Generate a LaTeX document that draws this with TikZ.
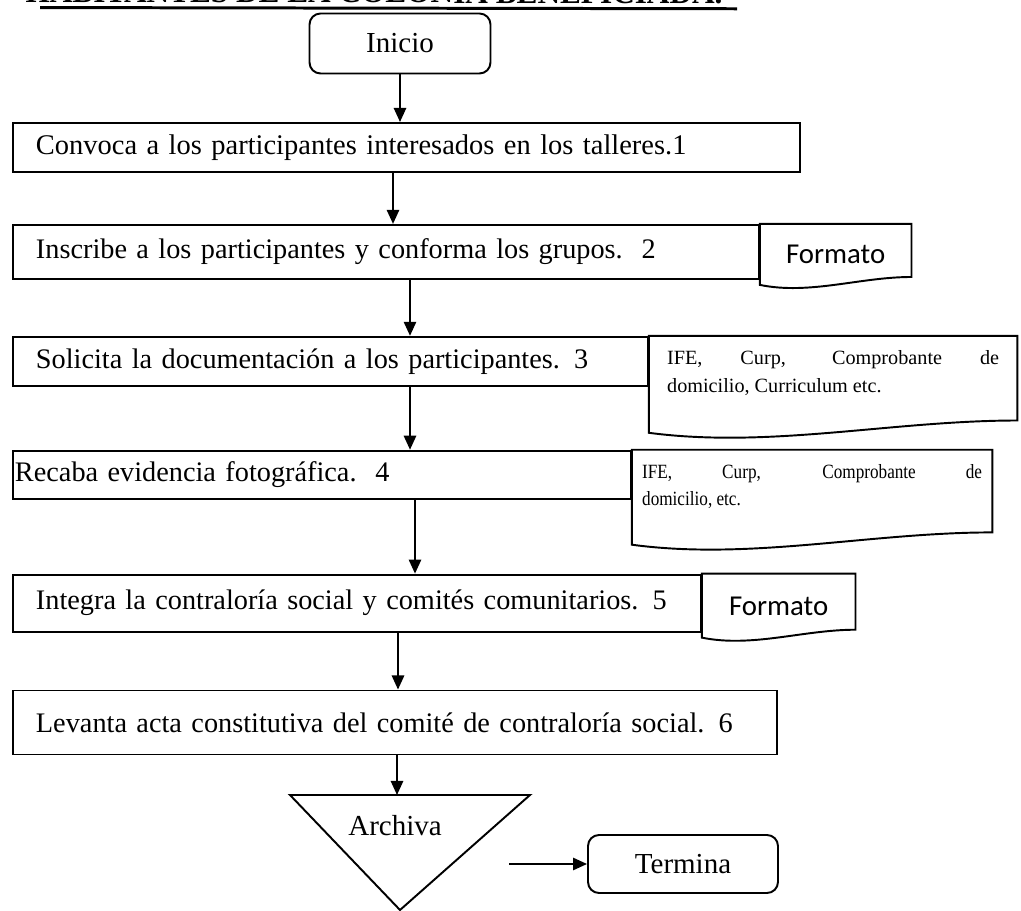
\documentclass[tikz,border=0pt]{standalone}
\usepackage{fontspec}
\setmainfont{Liberation Serif}
\newfontfamily\calibri{Carlito}
\newfontfamily\narrowserif[FakeStretch=0.85]{Liberation Serif}
\usetikzlibrary{arrows.meta,positioning,calc}

\begin{document}
\begin{tikzpicture}[
    x=0.02cm, y=-0.02cm,
    font=\fontsize{16.1}{19}\selectfont,
    proc/.style={draw, line width=1.1pt, anchor=north west, align=left, inner xsep=0.46cm, inner ysep=0pt},
    term/.style={draw, line width=1.1pt, rounded corners=2.2mm, minimum width=3.62cm, minimum height=1.2cm, font=\fontsize{16.5}{19}\selectfont},
    doc/.style={anchor=north west, inner ysep=0pt},
    fmt/.style={doc, font=\calibri\fontsize{16.4}{19}\selectfont},
    note/.style={doc, align=left, inner xsep=0.36cm, inner ysep=0.28cm, font=\fontsize{11.5}{16}\selectfont},
    arr/.style={-{Triangle[length=8pt,width=7pt]}, line width=1.1pt},
    line/.style={line width=1.1pt}
]
\useasboundingbox (0,0) rectangle (1021,911);
\clip (0,0) rectangle (1021,911);

% titulo (cortado arriba)
\node[font=\bfseries\fontsize{17.8}{20}\selectfont, anchor=base east, inner sep=0, rotate=-0.1] (title) at (723,3.5) {HABITANTES DE LA COLONIA BENEFICIADA.};
\draw[line width=1.7pt] ([yshift=-3pt,xshift=0.3cm]title.base west) -- ([yshift=-3pt,xshift=0.28cm]title.base east);

\node[term] (ini) at (400,43.5) {Inicio};

\node[proc, text width=14.82cm, minimum height=0.98cm, font=\fontsize{16.2}{19}\selectfont] (b1) at (12,122) {Convoca a los participantes interesados en los talleres.1};
\node[proc, text width=14.0cm, minimum height=1.08cm, below=1.02cm of b1.south west, anchor=north west] (b2) {Inscribe a los participantes y conforma los grupos.\ \ 2};
\node[proc, text width=11.78cm, minimum height=0.98cm, below=1.12cm of b2.south west, anchor=north west] (b3) {Solicita la documentación a los participantes. 3};
\node[proc, text width=12.28cm, inner xsep=0.04cm, minimum height=0.96cm, below=1.26cm of b3.south west, anchor=north west] (b4) {Recaba evidencia fotográfica.\ \ 4};
\node[proc, text width=12.84cm, minimum height=1.14cm, below=1.48cm of b4.south west, anchor=north west] (b5) {Integra la contraloría social y comités comunitarios. 5};
\node[proc, text width=14.36cm, minimum height=1.28cm, below=1.14cm of b5.south west, anchor=north west] (b6) {Levanta acta constitutiva del comité de contraloría social. 6};

% documentos
\node[fmt, minimum width=3.02cm, minimum height=1.22cm, right=0pt of b2.north east, anchor=north west] (f2) {Formato};
\node[note, right=0pt of b3.north east, anchor=north west] (d3) {\makebox[6.64cm][s]{IFE, Curp, Comprobante de}\\domicilio, Curriculum etc.};
\node[note, font=\narrowserif\fontsize{11.5}{15.5}\selectfont, inner xsep=0.2cm, right=0pt of b4.north east, anchor=north west] (d4) {\makebox[6.8cm][s]{IFE, Curp, Comprobante de}\\domicilio, etc.};
\node[fmt, minimum width=3.06cm, minimum height=1.28cm, right=0pt of b5.north east, anchor=north west] (f5) {Formato};

\foreach \d/\hh/\h in {f2/1.22cm/4.5pt,d3/1.94cm/7pt,d4/1.9cm/7pt,f5/1.28cm/4.5pt}{
  \draw[line] ([yshift=-\hh]\d.north west) -- (\d.north west) -- (\d.north east) -- ([yshift=-\hh+\h]\d.north east)
    .. controls ($([yshift=-\hh]\d.north west)!0.66!([yshift=-\hh]\d.north east)+(0,\h)$) and ($([yshift=-\hh]\d.north west)!0.33!([yshift=-\hh]\d.north east)-(0,1.3*\h)$) .. ([yshift=-\hh]\d.north west) -- cycle;
}

% archiva y termina
\node[font=\fontsize{16.5}{19}\selectfont] (arch) at (395,826) {Archiva};
\coordinate (tl) at ([shift={(-105,-31)}]arch.center);
\coordinate (tr) at ([shift={(135,-31)}]arch.center);
\coordinate (tp) at ([shift={(5,84)}]arch.center);
\draw[line] (tl) -- (tr) -- (tp) -- cycle;

\node[term, minimum width=3.8cm, minimum height=1.16cm] (fin) at (683,864) {Termina};

\draw[arr] (ini.south) -- (ini.south |- b1.north);
\foreach \a/\b/\x in {b1/b2/393,b2/b3/410,b3/b4/410,b4/b5/415,b5/b6/398}{\draw[arr] (\a.south -| \x,0) -- (\b.north -| \x,0);}
\draw[arr] (b6.south -| 397,0) -- (tl -| 397,0);
\draw[arr] ([xshift=-1.56cm]fin.west) -- (fin.west);
\end{tikzpicture}
\end{document}
